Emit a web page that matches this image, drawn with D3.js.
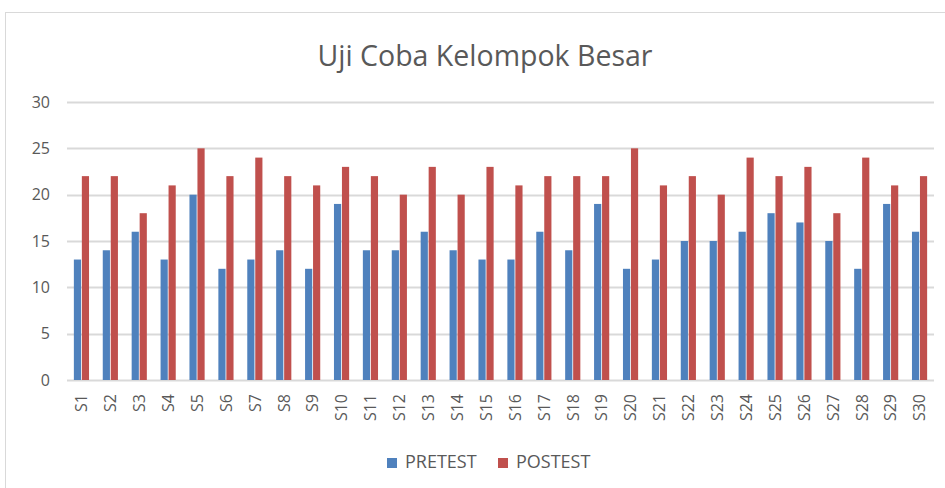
<!DOCTYPE html>
<html>
<head>
<meta charset="utf-8">
<script src="https://cdn.jsdelivr.net/npm/d3@7"></script>
<style>
    body { margin: 0; background: #fff; }
    svg text { font-family: "Open Sans", "Noto Sans", sans-serif; fill: #595959; }
</style>
</head>
<body>
<svg id="chart" width="945" height="488"></svg>
<script>
/*
 Data
 */
var categories = d3.range(1, 31).map(function (i) { return 'S' + i; });
var seriesNames = ['PRETEST', 'POSTEST'];
var pretest = [13, 14, 16, 13, 20, 12, 13, 14, 12, 19, 14, 14, 16, 14, 13,
               13, 16, 14, 19, 12, 13, 15, 15, 16, 18, 17, 15, 12, 19, 16];
var postest = [22, 22, 18, 21, 25, 22, 24, 22, 21, 23, 22, 20, 23, 20, 23,
               21, 22, 22, 22, 25, 21, 22, 20, 24, 22, 23, 18, 24, 21, 22];
var yTicks = [0, 5, 10, 15, 20, 25, 30];

var colors = ['#4F81BD', '#C0504D'];

var svg = d3.select('#chart');

// chart border
svg.append('rect')
    .attr('x', 5.5).attr('y', 12.5)
    .attr('width', 960).attr('height', 490)
    .attr('fill', 'none')
    .attr('stroke', '#d9d9d9');

var margin = {left: 67, right: 11, top: 102, bottom: 108};
var W = 945, H = 488;

var x = d3.scaleBand()
    .domain(categories)
    .range([margin.left, W - margin.right]);

var xInner = d3.scaleBand()
    .domain(seriesNames)
    .range([0, x.bandwidth()])
    .paddingInner(0.1)
    .paddingOuter(0.86);

var y = d3.scaleLinear()
    .domain([0, 30])
    .range([H - margin.bottom, margin.top]);

/*
 Grid and axes
 */
svg.append('g').selectAll('line')
    .data(yTicks)
    .enter().append('line')
    .attr('x1', margin.left)
    .attr('x2', W - margin.right)
    .attr('y1', function (d) { return Math.round(y(d)) + 0.5; })
    .attr('y2', function (d) { return Math.round(y(d)) + 0.5; })
    .attr('stroke', '#d9d9d9')
    .attr('stroke-width', 2);

svg.append('g').selectAll('text')
    .data(yTicks)
    .enter().append('text')
    .attr('x', 50)
    .attr('y', function (d) { return y(d); })
    .attr('dy', '0.35em')
    .attr('text-anchor', 'end')
    .style('font-size', '16px')
    .text(function (d) { return d; });

svg.append('g').selectAll('text')
    .data(categories)
    .enter().append('text')
    .attr('transform', function (d) {
        return 'translate(' + (x(d) + x.bandwidth() / 2) + ',' + (H - margin.bottom + 14) + ') rotate(-90)';
    })
    .attr('dy', '0.36em')
    .attr('text-anchor', 'end')
    .style('font-size', '16px')
    .text(function (d) { return d; });

/*
 Bars
 */
var seriesData = [pretest, postest];

seriesData.forEach(function (values, s) {
    svg.append('g').selectAll('rect')
        .data(values)
        .enter().append('rect')
        .attr('x', function (d, i) { return x(categories[i]) + xInner(seriesNames[s]); })
        .attr('width', xInner.bandwidth())
        .attr('y', function (d) { return y(d); })
        .attr('height', function (d) { return y(0) - y(d); })
        .attr('fill', colors[s]);
});

/*
 Title and legend
 */
svg.append('text')
    .attr('x', 485)
    .attr('y', 66)
    .attr('text-anchor', 'middle')
    .style('font-size', '28.5px')
    .text('Uji Coba Kelompok Besar');

var legend = svg.append('g').selectAll('g')
    .data(seriesNames)
    .enter().append('g')
    .attr('transform', function (d, i) { return 'translate(' + [387, 498][i] + ',462)'; });

legend.append('rect')
    .attr('x', 0).attr('y', -4)
    .attr('width', 10).attr('height', 10)
    .attr('fill', function (d, i) { return colors[i]; });

legend.append('text')
    .attr('x', 18)
    .attr('y', 0)
    .attr('dy', '0.35em')
    .style('font-size', '18px')
    .text(function (d) { return d; });
</script>
</body>
</html>
